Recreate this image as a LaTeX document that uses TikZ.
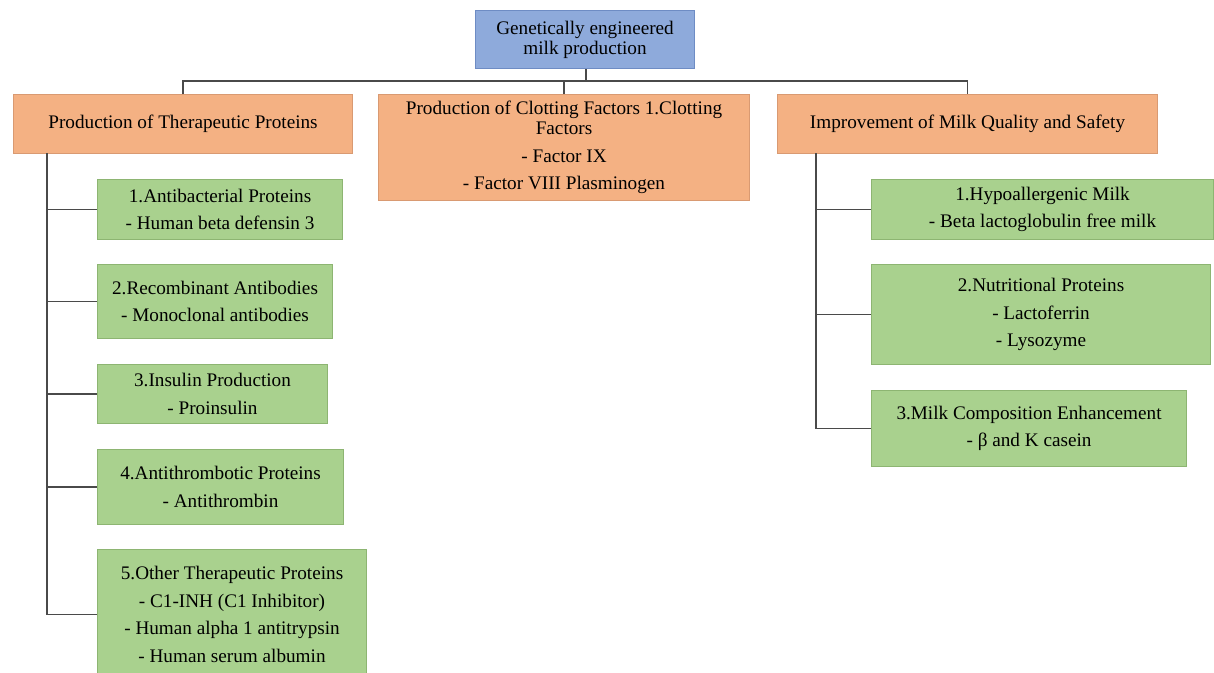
\documentclass[tikz,border=0pt]{standalone}
\usepackage{fontspec}
\setmainfont{Liberation Serif}
\definecolor{bluefill}{HTML}{8EAADB}
\definecolor{blueline}{HTML}{6E8CC4}
\definecolor{orfill}{HTML}{F4B183}
\definecolor{orline}{HTML}{D99A72}
\definecolor{grfill}{HTML}{A9D18E}
\definecolor{grline}{HTML}{8DB572}
\definecolor{conn}{HTML}{4A4A4A}
\begin{document}
\begin{tikzpicture}[x=0.75pt,y=-0.75pt,
  box/.style={anchor=north west,inner sep=0pt,align=center,line width=0.8pt,
    font=\fontsize{14.4}{20.6}\selectfont},
  topbox/.style={box,fill=bluefill,draw=blueline,font=\fontsize{14.4}{15}\selectfont},
  orbox/.style={box,fill=orfill,draw=orline},
  grbox/.style={box,fill=grfill,draw=grline},
  link/.style={draw=conn,line width=1.1pt}]
\useasboundingbox (0,0) rectangle (1214,672);
\begin{scope}
\clip (0,0) rectangle (1214,672);
% top
\node[topbox,minimum width=219*0.75pt,minimum height=58*0.75pt] (top) at (475,10)
  {Genetically engineered\\milk production};
% second level
\node[orbox,minimum width=339*0.75pt,minimum height=59*0.75pt] (oL) at (13,94)
  {Production of Therapeutic Proteins};
\node[orbox,minimum width=371*0.75pt,minimum height=106*0.75pt] (oM) at (378,94)
  {Production of Clotting Factors 1.Clotting\\[-5.6pt]Factors\\- Factor IX\\- Factor VIII Plasminogen};
\node[orbox,minimum width=380*0.75pt,minimum height=59*0.75pt] (oR) at (777,94)
  {Improvement of Milk Quality and Safety};
% left children
\node[grbox,minimum width=245*0.75pt,minimum height=60*0.75pt] (g1) at (97,179)
  {1.Antibacterial Proteins\\- Human beta defensin 3};
\node[grbox,minimum width=235*0.75pt,minimum height=74*0.75pt] (g2) at (97,264)
  {2.Recombinant Antibodies\\- Monoclonal antibodies};
\node[grbox,minimum width=230*0.75pt,minimum height=59*0.75pt] (g3) at (97,364)
  {3.Insulin Production\\- Proinsulin};
\node[grbox,minimum width=246*0.75pt,minimum height=75*0.75pt] (g4) at (97,449)
  {4.Antithrombotic Proteins\\- Antithrombin};
\node[grbox,minimum width=269*0.75pt,minimum height=130*0.75pt] (g5) at (97,549)
  {5.Other Therapeutic Proteins\\- C1-INH (C1 Inhibitor)\\- Human alpha 1 antitrypsin\\- Human serum albumin};
% right children
\node[grbox,minimum width=342*0.75pt,minimum height=60*0.75pt] (r1) at (871,179)
  {1.Hypoallergenic Milk\\- Beta lactoglobulin free milk};
\node[grbox,minimum width=339*0.75pt,minimum height=100*0.75pt] (r2) at (871,264)
  {2.Nutritional Proteins\\- Lactoferrin\\- Lysozyme};
\node[grbox,minimum width=315*0.75pt,minimum height=76*0.75pt] (r3) at (871,390)
  {3.Milk Composition Enhancement\\- β and K casein};
% connectors top
\coordinate (bus) at (586,81);
\draw[link] (top.south -| bus) -- (bus);
\draw[link] (oL.north) -- (oL.north |- bus) -- (oR.north |- bus) -- (oR.north);
\draw[link] (oM.north) -- (oM.north |- bus);
% left trunk
\coordinate (tL) at (47,153);
\draw[link] (tL) |- (g5.west);
\draw[link] (tL |- g1.west) -- (g1.west);
\draw[link] (tL |- g2.west) -- (g2.west);
\draw[link] (tL |- g3.west) -- (g3.west);
\draw[link] (tL |- g4.west) -- (g4.west);
% right trunk
\coordinate (tR) at (816,153);
\draw[link] (tR) |- (r3.west);
\draw[link] (tR |- r1.west) -- (r1.west);
\draw[link] (tR |- r2.west) -- (r2.west);
\end{scope}
\end{tikzpicture}
\end{document}
